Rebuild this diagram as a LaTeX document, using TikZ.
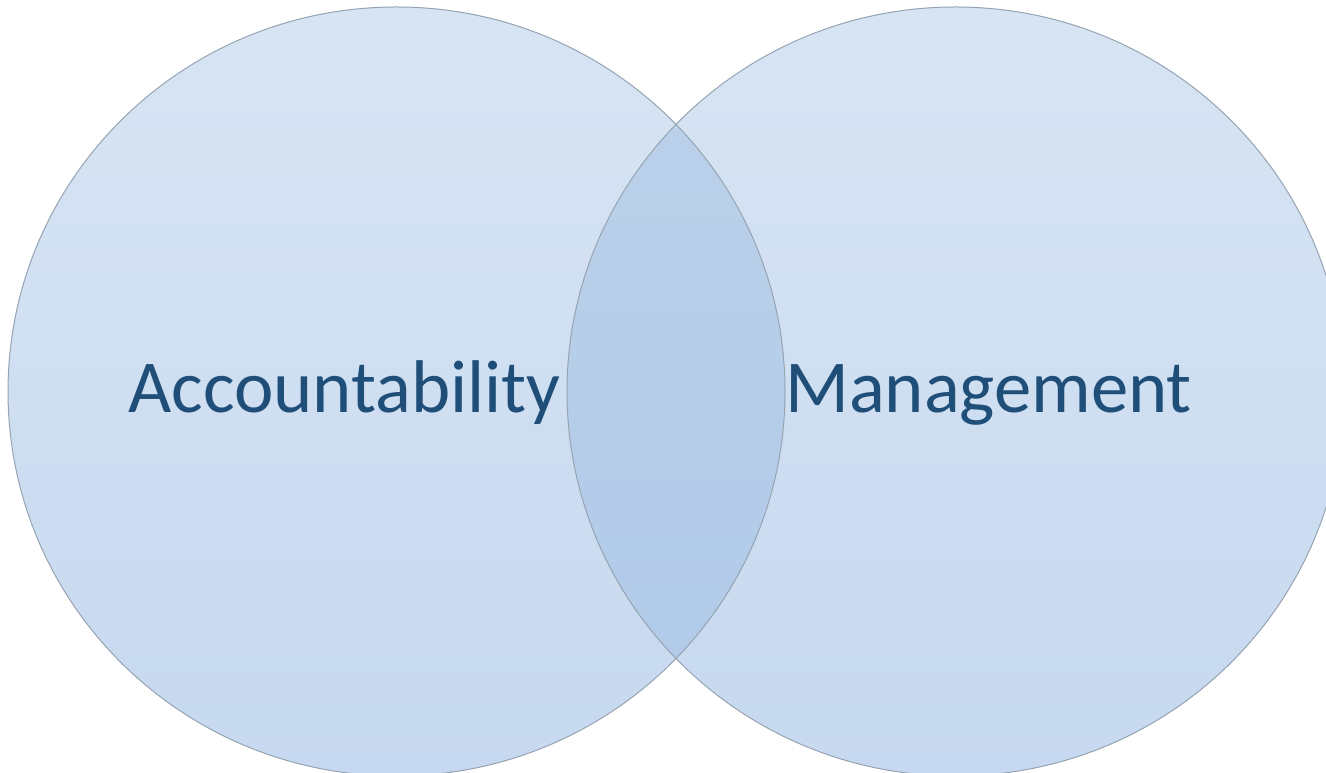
\documentclass[tikz,border=0pt]{standalone}
\usepackage{fontspec}
\setmainfont{Carlito}
\definecolor{fillTop}{HTML}{D7E4F3}
\definecolor{fillBot}{HTML}{C7D9F0}
\definecolor{lensTop}{HTML}{BDD2EA}
\definecolor{lensBot}{HTML}{AFC9E8}
\definecolor{rimGray}{HTML}{96A4B2}
\definecolor{labelBlue}{HTML}{1F4E79}
\begin{document}
\begin{tikzpicture}[x=0.75pt,y=0.75pt,
    setlabel/.style={anchor=base,text=labelBlue,font=\fontsize{56}{60}\selectfont}]
      \useasboundingbox (0,0) rectangle (1326,773);
      \coordinate (LC) at (396.5,381.5);
      \coordinate (RC) at (955.5,381.5);
      \shade[top color=fillTop,bottom color=fillBot] (LC) ellipse [x radius=388.5,y radius=384.5];
      \shade[top color=fillTop,bottom color=fillBot] (RC) ellipse [x radius=388.5,y radius=384.5];
      \begin{scope}
        \clip (LC) ellipse [x radius=388.5,y radius=384.5];
        \shade[top color=lensTop,bottom color=lensBot] (RC) ellipse [x radius=388.5,y radius=384.5];
      \end{scope}
      \draw[rimGray,line width=0.75pt] (LC) ellipse [x radius=388.5,y radius=384.5];
      \draw[rimGray,line width=0.75pt] (RC) ellipse [x radius=388.5,y radius=384.5];
      \node[setlabel] (acc) at (344.5,360) {Accountability};
      \node[setlabel] (mgmt) at (988.5,360) {Management};
\end{tikzpicture}
\end{document}
